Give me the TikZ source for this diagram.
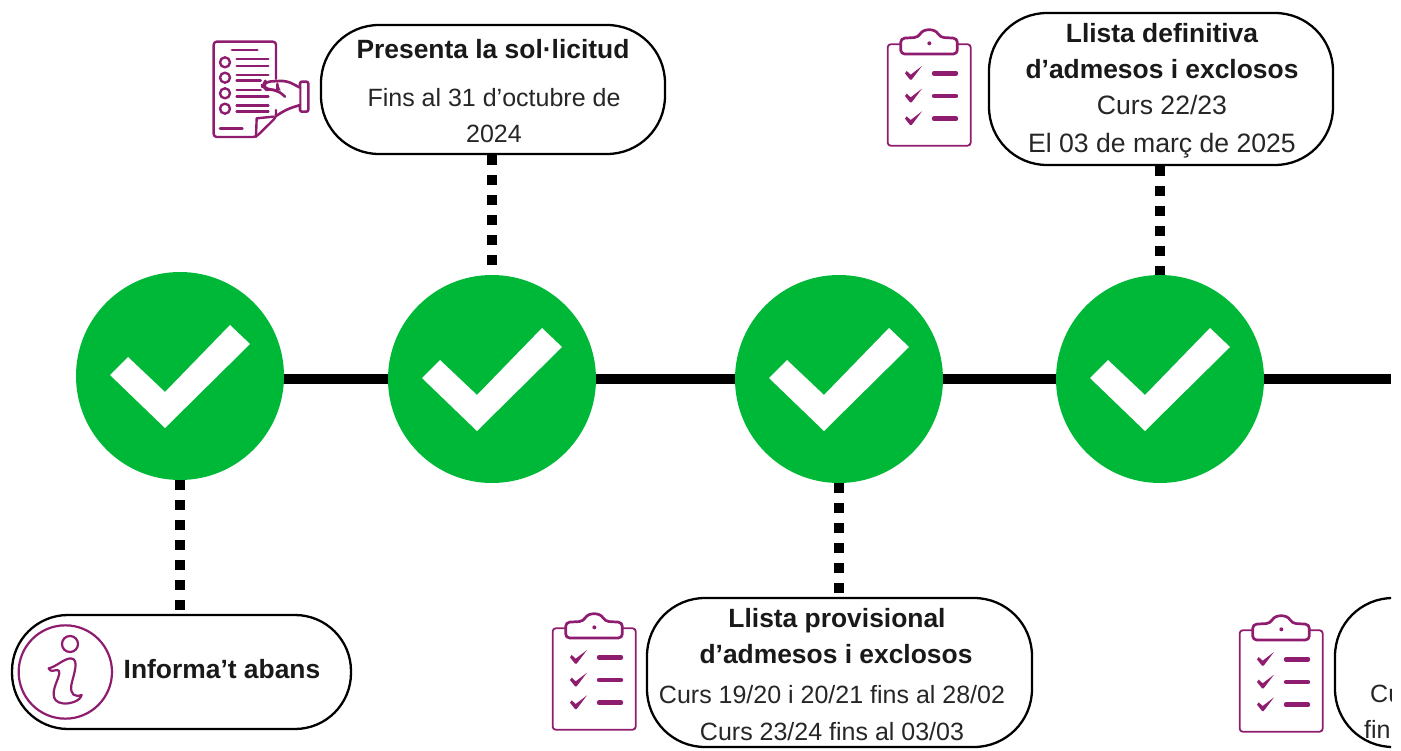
\documentclass[tikz,border=0pt]{standalone}
\usepackage{fontspec}
\setmainfont{Liberation Sans}
\usetikzlibrary{backgrounds}
\definecolor{okgreen}{HTML}{00B837}
\definecolor{plum}{HTML}{8F1D6F}
\definecolor{ink}{HTML}{262626}
\tikzset{
  stage/.style={circle,fill=okgreen,minimum size=208pt,inner sep=0pt},
  bubble/.style={draw=black,line width=2.3pt,rounded corners=58pt,fill=white,inner sep=0pt},
  rail/.style={line width=10pt,black},
  dots/.style={line width=10pt,black,dash pattern=on 10pt off 10pt},
  head/.style={anchor=base,inner sep=0pt,font=\fontsize{26.4}{30}\selectfont\bfseries,text=black!90},
  body/.style={anchor=base,inner sep=0pt,font=\fontsize{25}{30}\selectfont,text=ink},
  bodylarge/.style={body,font=\fontsize{26.6}{30}\selectfont},
  icon/.style={draw=plum,line join=round,line cap=round},
}
\newcommand{\tickmark}[1]{\fill[white] (#1) ++(-70,-1) -- ++(18,-18) -- ++(37,35) -- ++(65,-67) -- ++(20,19) -- ++(-85,84) -- cycle;}
\newcommand{\clipboardicon}[1]{%
\begin{scope}[shift={(#1)},scale=1/3]
  \draw[icon,line width=1.8pt,rounded corners=3pt] (92,103) -- (53,103) -- (53,407) -- (302,407) -- (302,103) -- (262,103);
  \draw[icon,line width=2.7pt,rounded corners=4pt] (92,132) -- (92,85) -- (145,82) .. controls (160,55) and (195,55) .. (210,82) -- (262,85) -- (262,132) -- cycle;
  \fill[plum] (178,100) circle (6);
  \foreach \d in {0,68,136}{
    \fill[plum] (105,190+\d) -- (110,183+\d) -- (122,194+\d) -- (156,168+\d) -- (125,209+\d) -- (120,209+\d) -- cycle;
    \draw[icon,line width=4.4pt] (192,190+\d) -- (258,190+\d);
  }
\end{scope}}
\begin{document}
\begin{tikzpicture}[x=1pt,y=-1pt]
\useasboundingbox (0,0) rectangle (1401,751);
% stages
\node[stage] (s1) at (180,376) {};
\node[stage] (s2) at (492,379) {};
\node[stage] (s3) at (839,379) {};
\node[stage] (s4) at (1160,379) {};
\coordinate (railend) at (1391,379);
% bubbles
\node[bubble,minimum width=344pt,minimum height=129pt] (b1) at (493,89.5) {};
\node[bubble,minimum width=344pt,minimum height=152pt] (b2) at (1161,89) {};
\node[bubble,minimum width=339pt,minimum height=114pt,rounded corners=56pt] (b3) at (181.5,672) {};
\node[bubble,minimum width=385pt,minimum height=149pt] (b4) at (839.5,672.5) {};
\begin{scope}[on background layer]
  \draw[rail] (s1 |- s2) -- (s2);
  \draw[rail] (s2) -- (s3);
  \draw[rail] (s3) -- (s4);
  \draw[rail] (s4) -- (railend);
  \draw[dots] (s1.south) -- (b3.north -| s1);
  \draw[dots] (b1.south -| s2) -- (s2.north);
  \draw[dots] (s3.south) -- (b4.north -| s3);
  \draw[dots] (b2.south -| s4) -- (s4.north);
\end{scope}
\tickmark{s1}
\tickmark{s2}
\tickmark{s3}
\tickmark{s4}
% clipped bubble
\begin{scope}
  \clip (1300,560) rectangle (1391,751);
  \node[bubble,minimum width=300pt,minimum height=149pt] (b5) at (1485,672.5) {};
  \node[body,anchor=base west] (t51) at (1370,702.7) {Cu};
  \node[body,anchor=base west] (t52) at (1364,738.7) {fin};
\end{scope}
% texts
\node[head] (t11) at (493,58.7) {Presenta la sol·licitud};
\node[body] (t12) at (494,106.7) {Fins al 31 d’octubre de};
\node[body] (t13) at (494,142.7) {2024};
\node[head] (t21) at (1162,42.7) {Llista definitiva};
\node[head] (t22) at (1162,78.7) {d’admesos i exclosos};
\node[bodylarge] (t23) at (1162,114.7) {Curs 22/23};
\node[bodylarge] (t24) at (1162,152.7) {El 03 de març de 2025};
\node[head] (t31) at (222,678.7) {Informa’t abans};
\node[head] (t41) at (837,627.5) {Llista provisional};
\node[head] (t42) at (836,663.2) {d’admesos i exclosos};
\node[body] (t43) at (832,703.7) {Curs 19/20 i 20/21 fins al 28/02};
\node[body] (t44) at (832,740) {Curs 23/24 fins al 03/03};
% icons
\clipboardicon{870,10}
\clipboardicon{535,594}
\clipboardicon{1222,596}
% info icon
\begin{scope}[shift={(0,600)},scale=1/3]
  \draw[icon,line width=2.2pt] (196,216) circle (140);
  \draw[icon,line width=2.2pt] (210,132) circle (24);
  \draw[icon,line width=2.2pt] (146,205) .. controls (170,200) and (190,176) .. (213,175) .. controls (240,178) and (220,225) .. (214,255) .. controls (210,285) and (225,292) .. (245,285) .. controls (240,305) and (205,313) .. (188,310) .. controls (150,305) and (160,270) .. (170,245) .. controls (178,225) and (182,212) .. (172,210) .. controls (165,210) and (150,218) .. (146,205) -- cycle;
\end{scope}
% document and hand icon
\begin{scope}[shift={(190,10)},scale=1/3]
  \draw[icon,line width=2.4pt,rounded corners=3pt] (258,207) -- (258,95) -- (71,95) -- (71,381) -- (198,381) -- (258,322) -- (258,300);
  \draw[icon,line width=2.4pt] (198,381) -- (200,325) -- (250,320);
  \draw[icon,line width=2.8pt] (126,120) -- (202,120);
  \foreach \y in {157,203,250,296} \draw[icon,line width=2.4pt] (105,\y) circle (15);
  \foreach \y in {147,168,195,260,287,305} \draw[icon,line width=2.6pt] (140,\y) -- (235,\y);
  \foreach \y in {212,240} \draw[icon,line width=2.6pt] (140,\y) -- (212,\y);
  \draw[icon,line width=2.8pt] (90,355) -- (157,355);
  \draw[icon,line width=2.6pt,fill=white,rounded corners=2pt] (330,215) rectangle (355,305);
  \draw[icon,line width=2.6pt,fill=white,rounded corners=6pt] (330,233) -- (290,212) -- (225,215) -- (218,228) -- (228,238) -- (262,240) -- (285,260) -- (262,240) -- (262,240);
  \fill[white] (262,242) -- (328,236) -- (328,284) -- (262,312) -- cycle;
  \draw[icon,line width=2.6pt,rounded corners=6pt] (228,238) -- (262,240) -- (285,260);
  \draw[icon,line width=2.6pt,rounded corners=6pt] (330,285) -- (290,298) -- (258,318);
\end{scope}
\end{tikzpicture}
\end{document}
